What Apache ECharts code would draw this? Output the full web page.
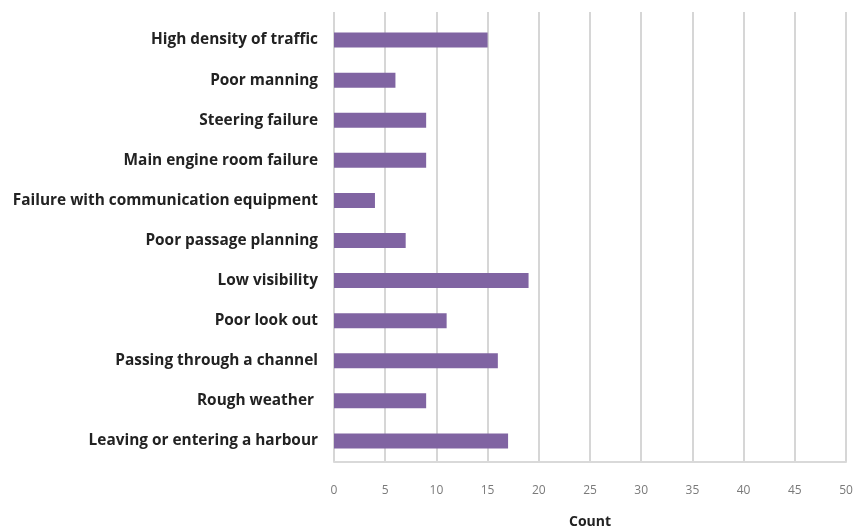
<!DOCTYPE html>
<html><head><meta charset="utf-8">
<script src="https://cdn.jsdelivr.net/npm/echarts@6/dist/echarts.min.js"></script>
<style>html,body{margin:0;padding:0;background:#fff}#c{width:855px;height:532px}</style>
</head><body><div id="c"></div>
<script>
var categories = ["High density of traffic","Poor manning","Steering failure","Main engine room failure","Failure with communication equipment","Poor passage planning","Low visibility","Poor look out","Passing through a channel","Rough weather ","Leaving or entering a harbour"];
var counts = [15,6,9,9,4,7,19,11,16,9,17];
var xTicks = [0,5,10,15,20,25,30,35,40,45,50];

var chart = echarts.init(document.getElementById('c'));
chart.setOption({
  animation:false,
  grid:[
    {left:334, right:9, top:12, height:450, containLabel:false, outerBoundsMode:'none'},
    {left:334, right:9, top:20, height:441, containLabel:false, outerBoundsMode:'none'}
  ],
  xAxis:[
    {gridIndex:0, type:'value', min:xTicks[0], max:xTicks[xTicks.length-1], interval:5,
     axisLine:{show:true, lineStyle:{color:'#d9d9d9', width:2}}, axisTick:{show:false},
     splitLine:{show:true, lineStyle:{color:'#c8c8c8', width:1.5}},
     axisLabel:{color:'#7a7a7a', fontFamily:'Open Sans', fontSize:12, margin:23},
     name:'Count', nameLocation:'middle', nameGap:53,
     nameTextStyle:{color:'#222', fontFamily:'Open Sans', fontWeight:'bold', fontSize:14}},
    {gridIndex:1, type:'value', min:xTicks[0], max:xTicks[xTicks.length-1], show:false}
  ],
  yAxis:[
    {gridIndex:0, type:'value', show:false, min:0, max:1},
    {gridIndex:1, type:'category', data:categories, inverse:true,
     axisLine:{show:false}, axisTick:{show:false}, splitLine:{show:false},
     axisLabel:{color:'#222', fontFamily:'Open Sans', fontWeight:'bold', fontSize:15.4, margin:16}}
  ],
  series:[{
    type:'bar', xAxisIndex:1, yAxisIndex:1, data:counts, barWidth:15,
    itemStyle:{color:'#8064a2'}
  }]
});
</script></body></html>
